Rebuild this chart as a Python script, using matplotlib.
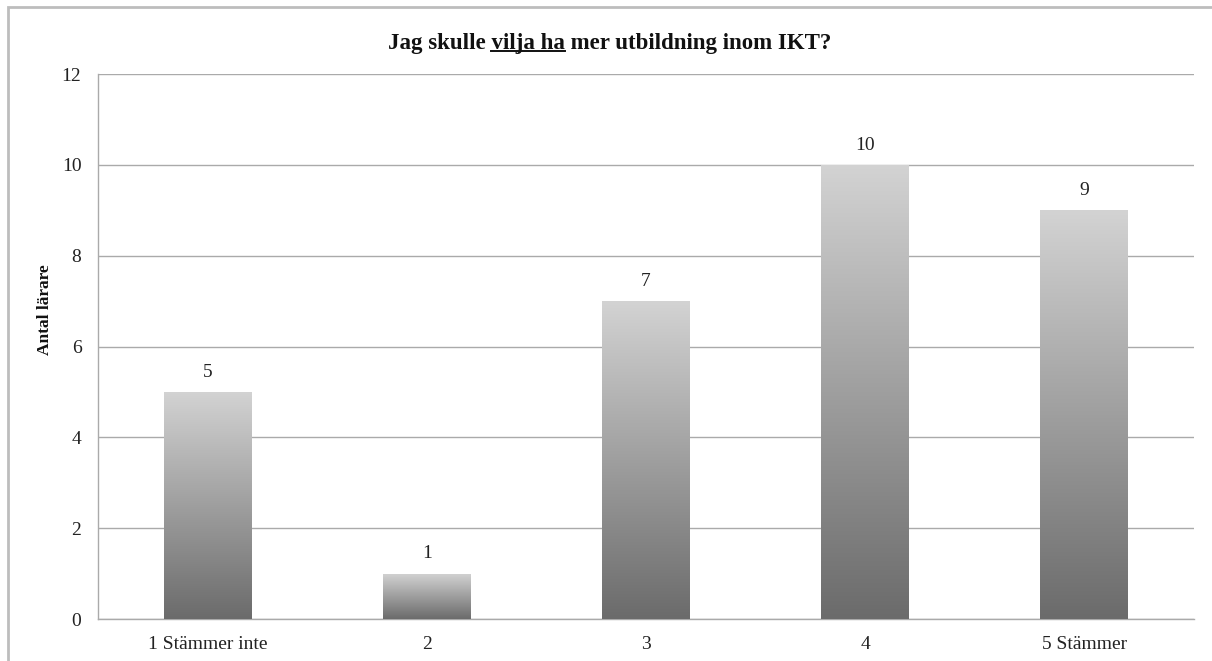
import numpy as np
import matplotlib.pyplot as plt
from matplotlib.patches import Rectangle
from matplotlib.lines import Line2D

kategorier = ['1 Stämmer inte', '2', '3', '4', '5 Stämmer']
antal = [5, 1, 7, 10, 9]
y_ticks = [0, 2, 4, 6, 8, 10, 12]

titel_fore = 'Jag skulle '
titel_under = 'vilja ha'
titel_efter = ' mer utbildning inom IKT?'

plt.rcParams['font.family'] = ['Liberation Serif', 'DejaVu Serif']

fig = plt.figure(figsize=(12.12, 6.61), dpi=100)
ax = fig.add_axes([0.0809, 0.0635, 0.9041, 0.8245])

x = np.arange(len(kategorier))
bredd = 0.4
staplar = ax.bar(x, antal, width=bredd, color='none', edgecolor='none', zorder=3)

# gradient: ljusgrå upptill, mörkgrå nedtill
gradient = np.linspace(0, 1, 256).reshape(-1, 1)
cmap = plt.matplotlib.colors.LinearSegmentedColormap.from_list('gra', ['#6b6b6b', '#d3d3d3'])
for b in staplar:
    x0, h = b.get_x(), b.get_height()
    im = ax.imshow(gradient, cmap=cmap, origin='lower', aspect='auto',
                   extent=(x0, x0 + b.get_width(), 0, h), zorder=3, interpolation='bicubic')
    im.set_clip_path(b)
    ax.text(x0 + b.get_width() / 2, h + 0.25, f'{int(h)}', ha='center', va='bottom',
            fontsize=14, color='#222222')

ax.set_xlim(-0.5, len(kategorier) - 0.5)
ax.set_ylim(0, 12)
ax.set_yticks(y_ticks)
ax.set_xticks(x)
ax.set_xticklabels(kategorier)
ax.tick_params(axis='both', length=0, labelsize=14, colors='#222222')
ax.tick_params(axis='y', pad=12)
ax.tick_params(axis='x', pad=12)
ax.yaxis.grid(True, color='#aaaaaa', linewidth=1.0, zorder=0)
ax.set_axisbelow(True)
for s in ['top', 'right']:
    ax.spines[s].set_visible(False)
for s in ['left', 'bottom']:
    ax.spines[s].set_color('#aaaaaa')
    ax.spines[s].set_linewidth(1.0)

ax.set_ylabel('Antal lärare', fontsize=12.5, fontweight='bold', color='#111111')
ax.yaxis.set_label_coords(-0.041, 0.567)

# rubrik med understruken del
hela = titel_fore + titel_under + titel_efter
tfs = 16.5
tx, ty = 0.503, 1 - 43 / 661
t = fig.text(tx, ty, hela, ha='center', va='center', fontsize=tfs, fontweight='bold', color='#111111')
fig.canvas.draw()
r = fig.canvas.get_renderer()
bb = t.get_window_extent(r)
def bredd_px(s):
    tmp = fig.text(0, 0, s, fontsize=tfs, fontweight='bold')
    w = tmp.get_window_extent(r).width
    tmp.remove()
    return w
x_start = bb.x0 + bredd_px(titel_fore)
x_slut = bb.x0 + bredd_px(titel_fore + titel_under)
y_line = bb.y0 + 3
fig.add_artist(Line2D([x_start / fig.bbox.width, x_slut / fig.bbox.width],
                      [y_line / fig.bbox.height] * 2, color='#111111', linewidth=1.4))

# ram runt diagrammet
fig.add_artist(Rectangle((8 / 1212, -0.2), 1.2, 1.2 - 7 / 661,
                         transform=fig.transFigure, fill=False, edgecolor='#bdbdbd', linewidth=2))

fig.savefig('out.png', dpi=100)
